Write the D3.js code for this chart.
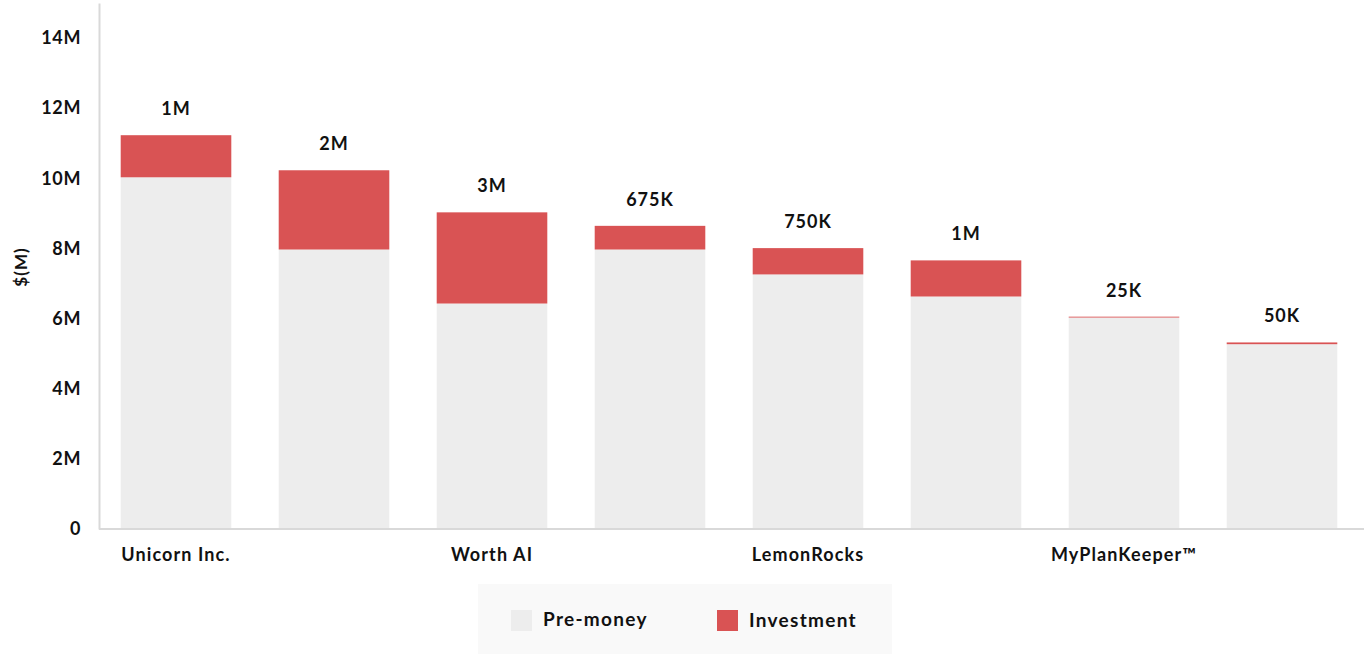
<!DOCTYPE html>
<html>
<head>
<meta charset="utf-8">
<script src="https://cdn.jsdelivr.net/npm/d3@7"></script>
<style>
  html, body { margin: 0; padding: 0; background: #fff; }
  svg { display: block; font-family: Lato, "Open Sans", sans-serif; font-weight: 700; }
</style>
</head>
<body>
<svg id="chart" width="1364" height="654"></svg>
<script>
// Funding rounds: pre-money valuation plus new investment, in $M
const tickLabels = ["Unicorn Inc.", "", "Worth AI", "", "LemonRocks", "", "MyPlanKeeper™", ""];
const preMoney   = [10.03, 7.97, 6.43, 7.97, 7.26, 6.63, 6.03, 5.27];
const investment = [1.2, 2.26, 2.6, 0.675, 0.75, 1.03, 0.025, 0.05];
const yTicks     = [0, 2, 4, 6, 8, 10, 12, 14];
const seriesNames = ["Pre-money", "Investment"];
const colors = ["#ededed", "#d95354"];

const svg = d3.select("#chart");
const idx = d3.range(tickLabels.length);

const x = d3.scaleBand().domain(idx).range([97, 1361]).paddingInner(0.3).paddingOuter(0.15);
const y = d3.scaleLinear().domain([0, 15]).range([529, 3]);

// money label: whole millions above 1M, thousands below
const fmtMoney = v => v >= 1 ? Math.round(v) + "M" : Math.round(v * 1000) + "K";
const fmtAxis = v => v === 0 ? "0" : v + "M";

// stacked bars
const rows = idx.map(i => ({ i, pre: preMoney[i], inv: investment[i] }));
const stack = d3.stack().keys(["pre", "inv"])(rows);

svg.append("g").selectAll("g")
  .data(stack)
  .join("g")
  .attr("fill", (d, k) => colors[k])
  .selectAll("rect")
  .data(d => d)
  .join("rect")
  .attr("x", d => x(d.data.i))
  .attr("width", x.bandwidth())
  .attr("y", d => y(d[1]))
  .attr("height", d => y(d[0]) - y(d[1]));

// investment labels above each bar
svg.append("g")
  .attr("font-size", 18)
  .attr("letter-spacing", 1)
  .attr("fill", "#111")
  .attr("text-anchor", "middle")
  .selectAll("text")
  .data(rows)
  .join("text")
  .attr("x", d => x(d.i) + x.bandwidth() / 2)
  .attr("y", d => y(d.pre + d.inv) - 20)
  .text(d => fmtMoney(d.inv));

// y axis
const yAxis = svg.append("g")
  .attr("transform", "translate(99,0)")
  .call(d3.axisLeft(y).tickValues(yTicks).tickFormat(fmtAxis).tickSize(0).tickPadding(18));
yAxis.select(".domain").attr("stroke", "#d9d9d9").attr("stroke-width", 2);
yAxis.selectAll("text").attr("font-size", 18).attr("font-family", "Lato, sans-serif")
  .attr("font-weight", 700).attr("letter-spacing", 0.6).attr("fill", "#111");

// x axis
const xAxis = svg.append("g")
  .attr("transform", "translate(0,529)")
  .call(d3.axisBottom(x).tickFormat(i => tickLabels[i]).tickSize(0).tickPadding(19));
xAxis.select(".domain").attr("d", "M99,0H1364").attr("stroke", "#d9d9d9").attr("stroke-width", 2);
xAxis.selectAll("text").attr("font-size", 18).attr("font-family", "Lato, sans-serif")
  .attr("font-weight", 700).attr("letter-spacing", 1.1).attr("fill", "#111");

// y axis title
svg.append("text")
  .attr("transform", "translate(27,267) rotate(-90)")
  .attr("text-anchor", "middle")
  .attr("font-size", 17)
  .attr("letter-spacing", 1)
  .attr("fill", "#111")
  .text("$(M)");

// legend
const legend = svg.append("g");
legend.append("rect")
  .attr("x", 478).attr("y", 584).attr("width", 414).attr("height", 70)
  .attr("fill", "#f9f9f9");
const items = legend.selectAll("g.item")
  .data(seriesNames)
  .join("g")
  .attr("class", "item")
  .attr("transform", (d, k) => `translate(${k === 0 ? 511 : 717},610)`);
items.append("rect")
  .attr("width", 21).attr("height", 21)
  .attr("fill", (d, k) => colors[k]);
items.append("text")
  .attr("x", 32).attr("y", (d, k) => k === 0 ? 16 : 17)
  .attr("font-size", 19)
  .attr("letter-spacing", 1.3)
  .attr("fill", "#111")
  .text(d => d);
</script>
</body>
</html>
